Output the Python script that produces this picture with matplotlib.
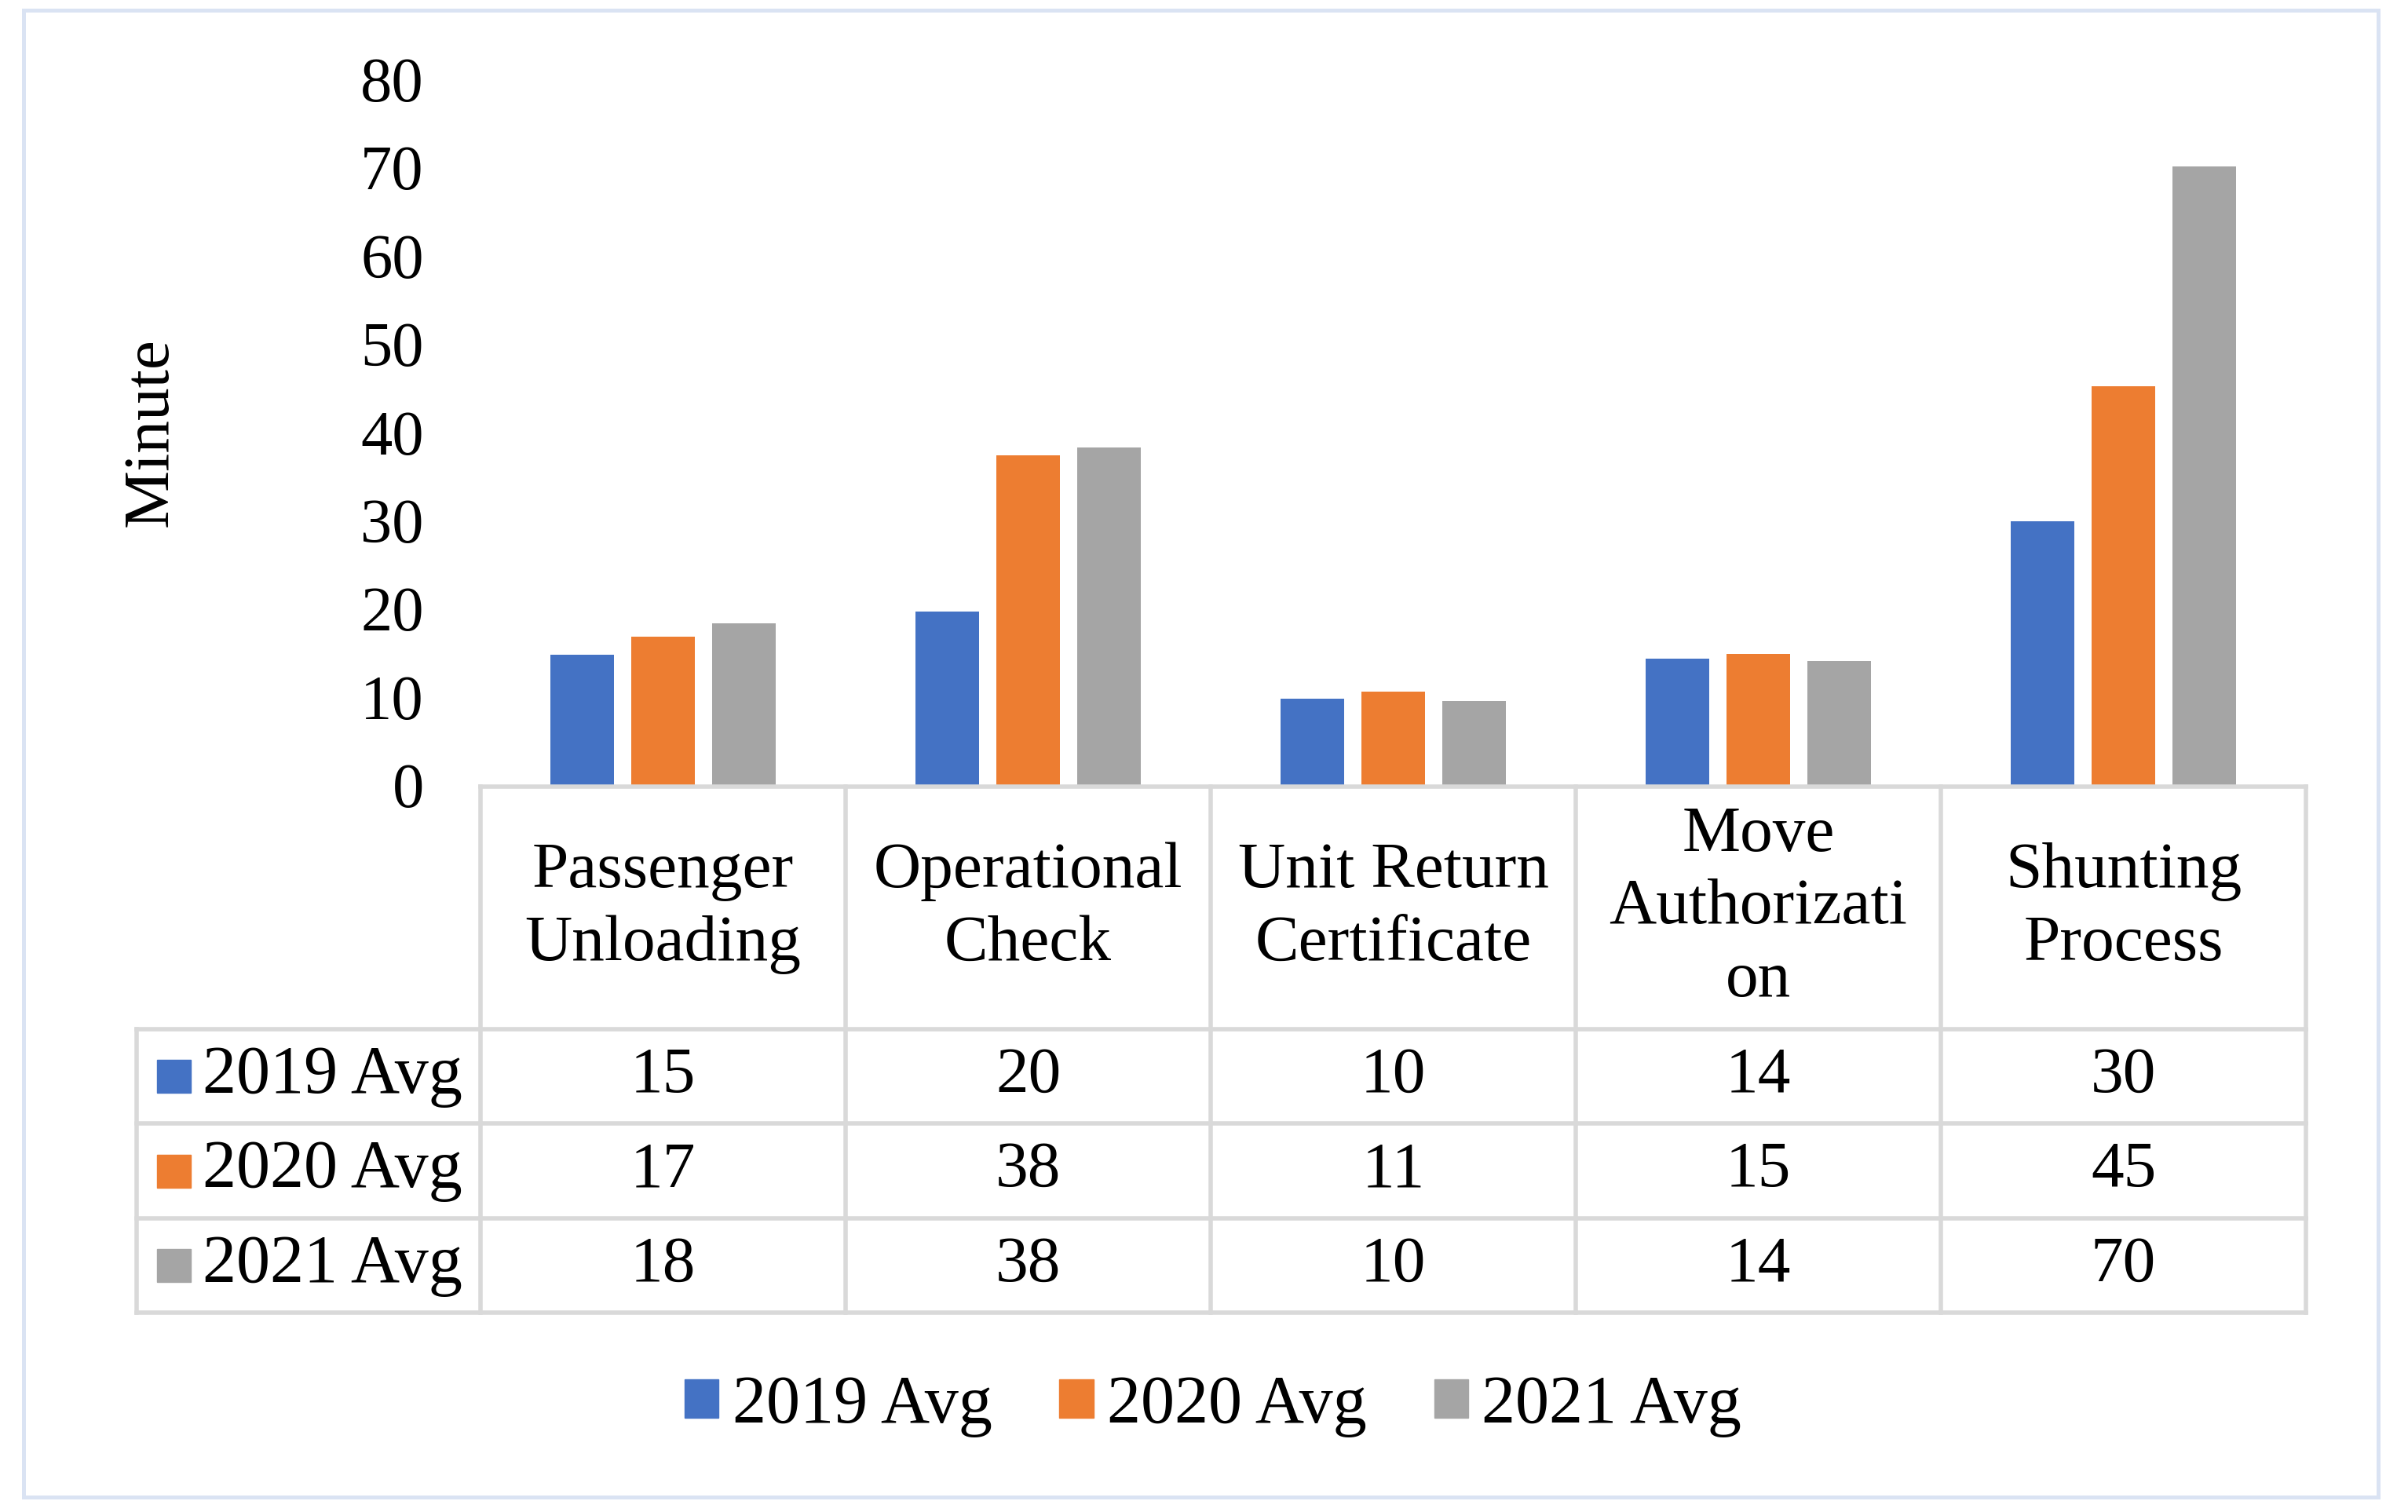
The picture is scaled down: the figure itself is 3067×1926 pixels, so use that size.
import matplotlib
matplotlib.use("Agg")
import matplotlib.pyplot as plt
from matplotlib.patches import Rectangle, Patch
from matplotlib.lines import Line2D

plt.rcParams['font.family'] = ['Liberation Serif', 'DejaVu Serif']

categories = ["Passenger\nUnloading", "Operational\nCheck", "Unit Return\nCertificate",
              "Move\nAuthorizati\non", "Shunting\nProcess"]
series_names = ["2019 Avg", "2020 Avg", "2021 Avg"]
avg_2019 = [14.8, 19.7, 9.8, 14.3, 29.9]
avg_2020 = [16.8, 37.4, 10.6, 14.9, 45.2]
avg_2021 = [18.3, 38.3, 9.5, 14.1, 70.1]
table_2019 = ["15", "20", "10", "14", "30"]
table_2020 = ["17", "38", "11", "15", "45"]
table_2021 = ["18", "38", "10", "14", "70"]
yticks = [0, 10, 20, 30, 40, 50, 60, 70, 80]

series = [avg_2019, avg_2020, avg_2021]
tables = [table_2019, table_2020, table_2021]
colors = ["#4472C4", "#ED7D31", "#A5A5A5"]
grid_col = "#D9D9D9"

W, H = 3067, 1926
DPI = 100
fig = plt.figure(figsize=(W / DPI, H / DPI), dpi=DPI)

def fx(px):
    return px / W

def fy(py):
    return 1 - py / H

FS = 60
FS_LEG = 62

# outer frame
fig.patches.append(Rectangle((fx(30), fy(1907)), fx(3029) - fx(30), (1907 - 13) / H,
                             transform=fig.transFigure, fill=False,
                             edgecolor="#DAE3F3", linewidth=3.6))

# bar axes
ax = fig.add_axes([fx(612), fy(1000), fx(2937) - fx(612), (1000 - 101) / H])
ax.set_xlim(-0.5, 4.5)
ax.set_ylim(0, 80)
offsets = [-0.2215, 0.0, 0.2215]
for j, vals in enumerate(series):
    ax.bar([i + offsets[j] for i in range(len(vals))], vals, width=0.175,
           color=colors[j], label=series_names[j])
for s in ax.spines.values():
    s.set_visible(False)
ax.set_xticks([])
ax.set_yticks(yticks)
ax.set_yticklabels([str(t) for t in yticks], fontsize=58)
ax.tick_params(axis='y', length=0, pad=52)
ax.set_ylabel("Minute", fontsize=FS)
ax.yaxis.set_label_coords(-0.1639, 0.5)
ax.patch.set_alpha(0)

# table axes
col_px = 465.0
left_ext = -0.5 - (612 - 174) / col_px
hdr = 309 / 120.3
nrows = 3
ax_t = fig.add_axes([fx(174), fy(1672), fx(2937) - fx(174), (1672 - 1002) / H])
ax_t.set_xlim(left_ext, 4.5)
ax_t.set_ylim(hdr + nrows, 0)
ax_t.axis('off')
lw = 4.0
ncat = len(categories)
# horizontal lines
ax_t.add_line(Line2D([-0.5, ncat - 0.5], [0, 0], color=grid_col, lw=lw, clip_on=False))
for r in range(nrows + 1):
    ax_t.add_line(Line2D([left_ext, ncat - 0.5], [hdr + r, hdr + r], color=grid_col, lw=lw,
                         clip_on=False, solid_capstyle='projecting'))
# vertical lines
ax_t.add_line(Line2D([left_ext, left_ext], [hdr, hdr + nrows], color=grid_col, lw=lw, clip_on=False))
for i in range(ncat + 1):
    ax_t.add_line(Line2D([i - 0.5, i - 0.5], [0, hdr + nrows], color=grid_col, lw=lw, clip_on=False))

# header text
for i, c in enumerate(categories):
    ax_t.text(i, hdr / 2, c, ha='center', va='center', fontsize=FS, linespacing=1.3)

# rows
sq_w = 43 / col_px
sq_h = 42 / 120.3
for r in range(nrows):
    yc = hdr + r + 0.5
    ax_t.add_patch(Rectangle((left_ext + 26 / col_px, yc - sq_h / 2), sq_w, sq_h,
                             color=colors[r], clip_on=False))
    ax_t.text(left_ext + 84 / col_px, yc, series_names[r], ha='left', va='center', fontsize=FS_LEG)
    for i, v in enumerate(tables[r]):
        ax_t.text(i, yc, v, ha='center', va='center', fontsize=FS)

# bottom legend
handles = [Patch(color=colors[j]) for j in range(3)]
fig.legend(handles, series_names, loc='center', bbox_to_anchor=(fx(1545), fy(1791)),
           ncol=3, frameon=False, fontsize=FS_LEG, handlelength=0.5, handleheight=0.5,
           handletextpad=0.2, columnspacing=1.0)

fig.savefig("out.png", dpi=DPI)
